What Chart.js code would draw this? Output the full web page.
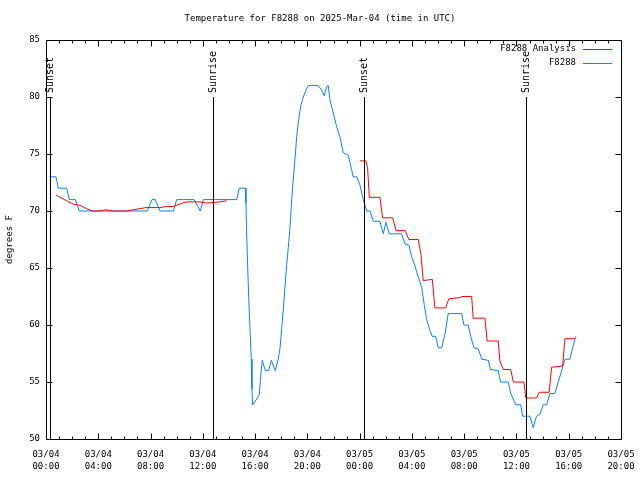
<!DOCTYPE html>
<html>
<head>
<meta charset="utf-8">
<script src="https://cdn.jsdelivr.net/npm/chart.js@4.4.1/dist/chart.umd.min.js"></script>
<style>
html,body{margin:0;padding:0;background:#fff;}
#c{display:block;}
</style>
</head>
<body>
<canvas id="c" width="640" height="480"></canvas>
<script>
// ---- Data (hours since 03/04 00:00 UTC) ----
const obsHours = [0.25,0.77,0.94,1.58,1.78,2.24,2.55,7.75,8.11,8.36,8.72,9.74,10.0,11.32,11.81,12.04,14.59,14.79,15.25,15.3,15.36,15.43,15.51,15.61,15.71,15.76,15.81,16.12,16.32,16.43,16.55,16.78,17.04,17.24,17.54,17.77,17.9,18.03,18.16,18.29,18.42,18.54,18.67,18.8,18.92,19.05,19.18,19.3,19.49,19.69,19.89,20.07,20.83,21.09,21.29,21.48,21.6,21.73,21.98,22.24,22.49,22.75,23.13,23.39,23.51,23.77,24.02,24.28,24.54,24.79,25.05,25.55,25.81,26.01,26.27,27.21,27.47,27.77,27.98,28.23,28.49,28.75,28.94,29.13,29.38,29.56,29.82,30.02,30.28,30.53,30.78,31.81,31.98,32.31,32.5,32.75,33.08,33.34,33.84,34.02,34.6,34.79,35.37,35.56,35.96,36.32,36.47,37.03,37.28,37.54,37.8,38.05,38.31,38.56,38.94,39.2,39.46,39.71,40.09,40.3,40.55];
const obsTemps = [73,73,72,72,71,71,70,70,71,71,70,70,71,71,70,71,71,72,72,70.7,67.8,65.2,62.4,59.6,57.0,54.4,53.0,53.5,53.9,55.5,56.9,56.0,56.0,56.9,56.0,57.0,57.9,59.6,61.4,63.4,65.3,66.8,68.5,71.0,72.75,74.5,76.5,77.7,79.2,80.0,80.6,81,81,80.6,80.1,80.9,81,79.75,78.6,77.4,76.5,75.1,74.9,73.6,73,73,72.3,71,70,70,69.1,69.1,68.0,69.0,68,68,67.1,67,66.0,65.2,64.2,63.3,61.8,60.5,59.5,59.0,59.0,58.0,58.0,59.2,61.0,61,60,60,59,58,57.9,57,56.9,56.1,56,55,55,54,53,53,52,52,51,52,52.2,53,53,54,54,55,56,57,57,58,59];

const anaHours = [0.77,1.07,1.58,2.09,2.6,3.11,3.57,4.08,4.59,5.1,6.12,6.63,7.14,7.65,8.72,9.23,9.74,10.2,10.77,11.78,12.3,12.8,13.31,13.83,18.0,24.02,24.48,24.61,24.74,25.55,25.76,26.53,26.78,27.47,27.77,28.49,28.69,28.87,29.56,29.76,30.58,30.83,31.68,31.81,32.57,32.69,33.59,33.76,34.6,34.73,34.99,35.56,35.76,36.57,36.72,37.54,37.74,38.5,38.69,39.53,39.71,40.47];
const anaTemps = [71.4,71.2,70.9,70.6,70.5,70.2,70.0,70,70.1,70,70,70.1,70.2,70.3,70.3,70.4,70.4,70.6,70.8,70.8,70.7,70.75,70.8,70.9,null,74.4,74.4,73.8,71.2,71.2,69.4,69.4,68.3,68.3,67.5,67.5,66.2,63.9,64,61.5,61.5,62.3,62.4,62.5,62.5,60.6,60.6,58.6,58.6,56.85,56.1,56.1,55,55,53.6,53.6,54.1,54.1,56.3,56.4,58.8,58.8];

const xTickHours = [0,4,8,12,16,20,24,28,32,36,40,44];
const xTickLabels = [["03/04","00:00"],["03/04","04:00"],["03/04","08:00"],["03/04","12:00"],["03/04","16:00"],["03/04","20:00"],["03/05","00:00"],["03/05","04:00"],["03/05","08:00"],["03/05","12:00"],["03/05","16:00"],["03/05","20:00"]];
const yTicks = [50,55,60,65,70,75,80,85];

const sunHours = [0.3,12.8,24.35,36.75];
const sunLabels = ["Sunset","Sunrise","Sunset","Sunrise"];

const titleText = "Temperature for F8288 on 2025-Mar-04 (time in UTC)";
const FONT = "DejaVu Sans Mono";

function pts(h, v){ return h.map((x,i)=>({x:x, y:v[i]})); }

const framePlugin = {
  id: 'frame',
  afterDraw(chart){
    const ctx = chart.ctx, a = chart.chartArea;
    const xs = chart.scales.x, ys = chart.scales.y;
    ctx.save();
    ctx.strokeStyle = '#000';
    ctx.lineWidth = 1;
    const L = Math.round(a.left)+0.5, R = Math.round(a.right)+0.5, T = Math.round(a.top)+0.5, B = Math.round(a.bottom)+0.5;
    ctx.beginPath();
    ctx.rect(L, T, R-L, B-T);
    for (let h = xs.min; h <= xs.max; h += 1) {
      const px = Math.round(xs.getPixelForValue(h))+0.5;
      const len = (h % 4 === 0) ? 6 : 3;
      ctx.moveTo(px, B); ctx.lineTo(px, B-len);
      ctx.moveTo(px, T); ctx.lineTo(px, T+len);
    }
    yTicks.forEach(v=>{
      const py = Math.round(ys.getPixelForValue(v))+0.5;
      ctx.moveTo(L, py); ctx.lineTo(L+6, py);
      ctx.moveTo(R, py); ctx.lineTo(R-6, py);
    });
    ctx.stroke();

    // sunrise/sunset lines
    ctx.font = '10px "' + FONT + '"';
    ctx.fillStyle = '#000';
    sunHours.forEach((h,i)=>{
      const px = Math.round(xs.getPixelForValue(h))+0.5;
      ctx.beginPath();
      ctx.moveTo(px, 97); ctx.lineTo(px, B);
      ctx.stroke();
      ctx.save();
      ctx.translate(px, 93);
      ctx.rotate(-Math.PI/2);
      ctx.textAlign = 'left';
      ctx.textBaseline = 'middle';
      ctx.fillText(sunLabels[i], 0, 0);
      ctx.restore();
    });

    // title
    ctx.font = '9px "' + FONT + '"';
    ctx.textAlign = 'center';
    ctx.textBaseline = 'middle';
    ctx.fillText(titleText, 320, 19);

    // legend
    const ds = chart.data.datasets;
    ds.forEach((d,i)=>{
      const y = 49 + i*14;
      ctx.textAlign = 'right';
      ctx.fillStyle = '#000';
      ctx.fillText(d.label, 576, y);
      ctx.strokeStyle = d.borderColor;
      ctx.beginPath();
      ctx.moveTo(583, Math.round(y)+0.5); ctx.lineTo(612, Math.round(y)+0.5);
      ctx.stroke();
    });
    ctx.restore();
  }
};

new Chart(document.getElementById('c'), {
  type: 'line',
  data: {
    datasets: [
      { label: 'F8288 Analysis', data: pts(anaHours, anaTemps), borderColor: '#ff0000', borderWidth: 1, pointRadius: 0, fill: false, spanGaps: false, tension: 0 },
      { label: 'F8288', data: pts(obsHours, obsTemps), borderColor: '#0a80ff', borderWidth: 1, pointRadius: 0, fill: false, tension: 0 }
    ]
  },
  options: {
    responsive: false,
    animation: false,
    devicePixelRatio: 1,
    layout: { padding: { top: 40, right: 19, left: 0, bottom: 0 } },
    plugins: { legend: { display: false }, title: { display: false }, tooltip: { enabled: false } },
    scales: {
      x: {
        type: 'linear', min: 0, max: 44,
        afterFit(s){ s.height = 41; s.paddingLeft = 0; s.paddingRight = 0; },
        afterBuildTicks(s){ s.ticks = xTickHours.map(v=>({value:v})); },
        grid: { display: false, drawTicks: false },
        border: { display: false },
        ticks: {
          autoSkip: false, maxRotation: 0, padding: 9, color: '#000',
          font: { family: FONT, size: 9, lineHeight: 1.4 },
          callback(v){ const i = xTickHours.indexOf(v); return i >= 0 ? xTickLabels[i] : ''; }
        }
      },
      y: {
        type: 'linear', min: 50, max: 85,
        afterFit(s){ s.width = 46; s.paddingTop = 0; s.paddingBottom = 0; },
        afterBuildTicks(s){ s.ticks = yTicks.map(v=>({value:v})); },
        grid: { display: false, drawTicks: false },
        border: { display: false },
        ticks: { padding: 6, color: '#000', font: { family: FONT, size: 9 } },
        title: { display: true, text: 'degrees F', color: '#000', font: { family: FONT, size: 9 }, padding: { top: 4, bottom: 0 } }
      }
    }
  },
  plugins: [framePlugin]
});
</script>
</body>
</html>
